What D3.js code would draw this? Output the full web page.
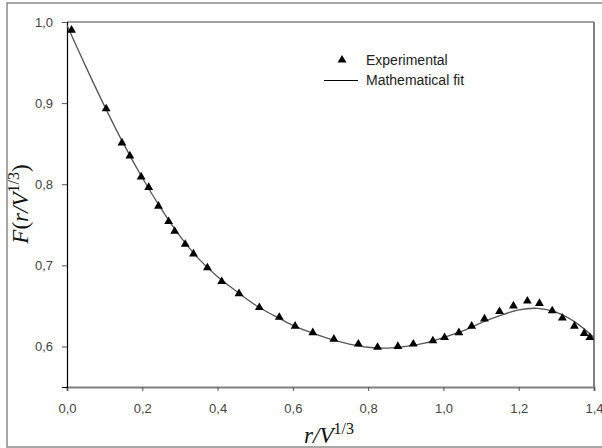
<!DOCTYPE html>
<html>
<head>
<meta charset="utf-8">
<script src="https://cdn.jsdelivr.net/npm/d3@7"></script>
<style>
  body { margin: 0; background: #fff; }
  svg { display: block; }
</style>
</head>
<body>
<div id="chart"></div>
<script>
// experimental points (r/V^1/3, F)
var expX = [0.012, 0.104, 0.146, 0.167, 0.197, 0.217, 0.243, 0.270, 0.286, 0.314,
            0.336, 0.373, 0.411, 0.457, 0.511, 0.564, 0.606, 0.653, 0.709, 0.774,
            0.825, 0.879, 0.920, 0.972, 1.003, 1.041, 1.075, 1.109, 1.149, 1.186,
            1.223, 1.255, 1.289, 1.316, 1.348, 1.374, 1.389]
var expY = [0.990, 0.893, 0.851, 0.835, 0.809, 0.796, 0.773, 0.754, 0.742, 0.726,
            0.714, 0.697, 0.680, 0.665, 0.648, 0.636, 0.625, 0.617, 0.609, 0.603,
            0.599, 0.600, 0.603, 0.607, 0.611, 0.617, 0.625, 0.634, 0.643, 0.650,
            0.656, 0.653, 0.644, 0.635, 0.625, 0.616, 0.611]

// mathematical fit
var fitX = [0.00, 0.05, 0.10, 0.15, 0.20, 0.25, 0.30, 0.35, 0.40, 0.45, 0.50, 0.55,
            0.60, 0.65, 0.70, 0.75, 0.80, 0.85, 0.90, 0.95, 1.00, 1.05, 1.10, 1.15,
            1.20, 1.25, 1.30, 1.35, 1.40]
var fitY = [0.996, 0.945, 0.896, 0.850, 0.808, 0.770, 0.736, 0.708, 0.686, 0.668, 0.651, 0.638,
            0.626, 0.617, 0.609, 0.603, 0.599, 0.598, 0.600, 0.604, 0.611, 0.619, 0.629, 0.638,
            0.645, 0.647, 0.642, 0.630, 0.611]

var xTicks = [0, 0.2, 0.4, 0.6, 0.8, 1.0, 1.2, 1.4]
var yTicks = [0.6, 0.7, 0.8, 0.9, 1.0]
var legendLabels = ['Experimental', 'Mathematical fit']

var width = 602,
    height = 448,
    margin = {top: 22, right: 8, bottom: 61, left: 67}

var svg = d3.select('#chart').append('svg')
  .attr('width', width)
  .attr('height', height)

// outer frame (right side runs past the picture edge)
svg.append('rect')
  .attr('x', 7).attr('y', 3)
  .attr('width', 620).attr('height', 444)
  .style('fill', 'none')
  .style('stroke', '#8a8a8a')
  .style('stroke-width', 1.5)

var x = d3.scaleLinear()
  .domain([0, 1.4])
  .range([margin.left, width - margin.right])

var y = d3.scaleLinear()
  .domain([0.55, 1.0])
  .range([height - margin.bottom, margin.top])

var comma = d3.formatLocale({decimal: ',', thousands: '.', grouping: [3], currency: ['', '']}).format('.1f')

// top and right frame lines
svg.append('line')
  .attr('x1', x(0)).attr('x2', x(1.4))
  .attr('y1', y(1.0)).attr('y2', y(1.0))
  .style('stroke', '#808080').style('stroke-width', 1.5)
svg.append('line')
  .attr('x1', x(1.4)).attr('x2', x(1.4))
  .attr('y1', y(1.0)).attr('y2', y(0.55))
  .style('stroke', '#808080').style('stroke-width', 2)

// x axis
var xAxis = svg.append('g')
  .attr('transform', 'translate(0,' + y(0.55) + ')')
  .call(d3.axisBottom(x).tickValues(xTicks).tickFormat(comma).tickSize(4).tickPadding(13))
xAxis.select('.domain').style('stroke', '#808080').style('stroke-width', 2)
xAxis.selectAll('.tick line').style('stroke', '#555')
xAxis.selectAll('text')
  .style('font', '13px "Liberation Sans", Arial, sans-serif')
  .style('fill', '#444')

// y axis
var yAxis = svg.append('g')
  .attr('transform', 'translate(' + x(0) + ',0)')
  .call(d3.axisLeft(y).tickValues(yTicks).tickFormat(comma).tickSize(5).tickPadding(9))
yAxis.select('.domain').style('stroke', '#000').style('stroke-width', 1.2)
yAxis.selectAll('.tick line').style('stroke', '#555')
yAxis.selectAll('text')
  .style('font', '13px "Liberation Sans", Arial, sans-serif')
  .style('fill', '#444')

// fit line
var fitData = fitX.map(function(d, i){ return {x: d, y: fitY[i]} })
var line = d3.line()
  .x(function(d){ return x(d.x) })
  .y(function(d){ return y(d.y) })
  .curve(d3.curveCatmullRom)

svg.append('path')
  .datum(fitData)
  .attr('d', line)
  .style('fill', 'none')
  .style('stroke', '#555')
  .style('stroke-width', 1.3)

// experimental triangles
var tri = d3.symbol().type(d3.symbolTriangle).size(34)
var expData = expX.map(function(d, i){ return {x: d, y: expY[i]} })

svg.selectAll('path.pt')
  .data(expData)
  .enter()
  .append('path')
  .attr('class', 'pt')
  .attr('d', tri)
  .attr('transform', function(d){ return 'translate(' + x(d.x) + ',' + y(d.y) + ')' })
  .style('fill', '#000')

// legend
var legend = svg.append('g')
legend.append('path')
  .attr('d', tri)
  .attr('transform', 'translate(342,60)')
  .style('fill', '#000')
legend.append('line')
  .attr('x1', 324).attr('x2', 358)
  .attr('y1', 80.5).attr('y2', 80.5)
  .style('stroke', '#000').style('stroke-width', 1)
legend.selectAll('text')
  .data(legendLabels)
  .enter()
  .append('text')
  .attr('x', 366)
  .attr('y', function(d, i){ return 65 + i * 20 })
  .text(function(d){ return d })
  .style('font', '14px "Liberation Sans", Arial, sans-serif')
  .style('fill', '#222')

// axis titles
var xt = svg.append('text')
  .attr('x', 329).attr('y', 443)
  .attr('text-anchor', 'middle')
  .style('font-family', '"Liberation Serif", "Times New Roman", serif')
  .style('font-size', '23px')
  .style('fill', '#111')
xt.append('tspan').style('font-style', 'italic').text('r/V')
xt.append('tspan').attr('dy', -9).style('font-size', '16px').text('1/3')

var yt = svg.append('text')
  .attr('transform', 'translate(28,204) rotate(-90)')
  .attr('text-anchor', 'middle')
  .style('font-family', '"Liberation Serif", "Times New Roman", serif')
  .style('font-size', '23px')
  .style('fill', '#111')
yt.append('tspan').style('font-style', 'italic').text('F')
yt.append('tspan').text('(')
yt.append('tspan').style('font-style', 'italic').text('r/V')
yt.append('tspan').attr('dy', -9).style('font-size', '16px').text('1/3')
yt.append('tspan').attr('dy', 9).text(')')
</script>
</body>
</html>
